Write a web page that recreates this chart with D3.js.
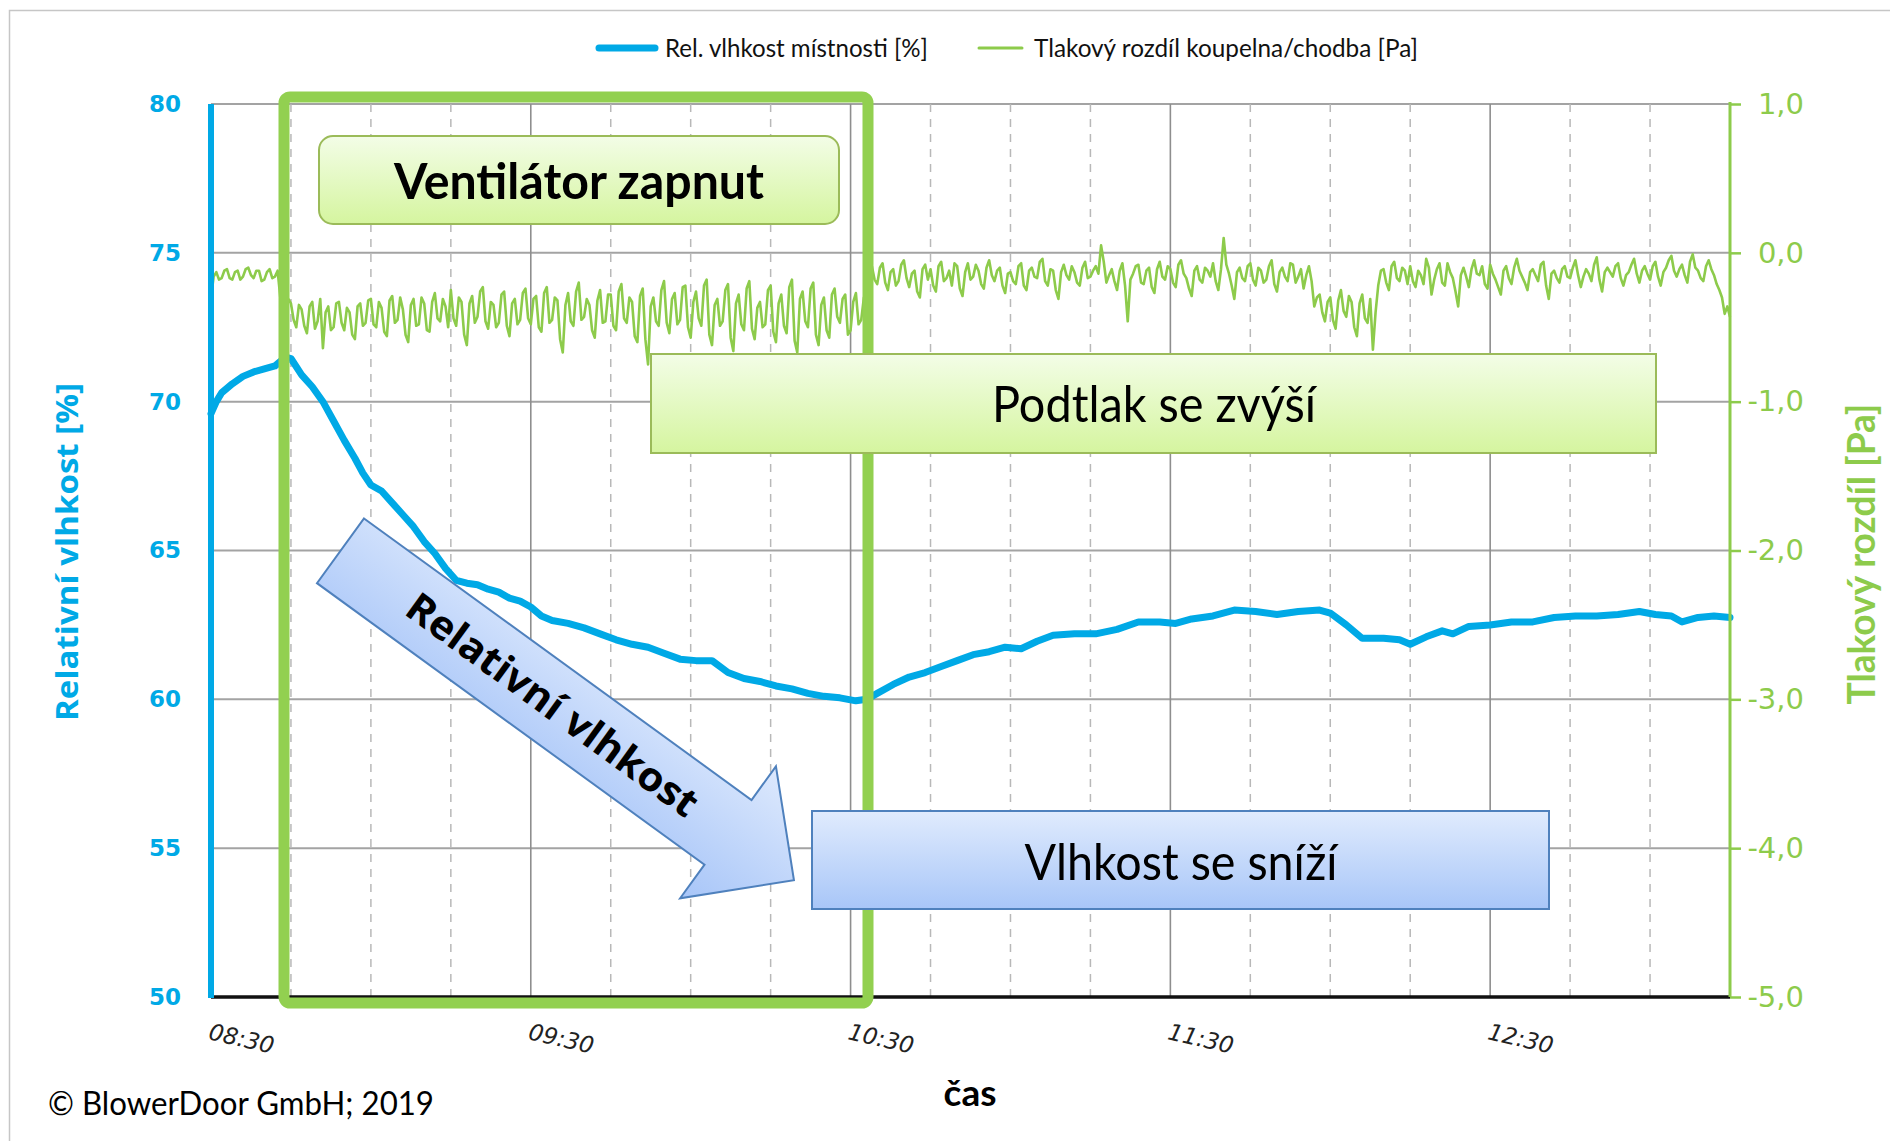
<!DOCTYPE html>
<html>
<head>
<meta charset="utf-8">
<script src="https://cdn.jsdelivr.net/npm/d3@7"></script>
<style>
  html, body { margin: 0; padding: 0; background: #fff; }
  svg { display: block; }
</style>
</head>
<body>
<svg id="chart" width="1890" height="1141"></svg>
<script>
// relative humidity of the room, sample time in minutes after 08:30
const humMinutes = [
  0, 1, 2, 4, 6, 8, 10, 12, 14, 15,
  17, 19, 21, 23, 25, 27, 28.5, 30, 32, 34,
  36, 38, 40, 42, 44, 46, 48, 50, 52, 54,
  56, 58, 60, 62, 64, 67, 70, 73, 76, 79,
  82, 85, 88, 91, 94, 97, 100, 103, 106, 109,
  112, 115, 118, 121, 123, 125, 128, 131, 134, 137,
  140, 143, 146, 149, 152, 155, 158, 162, 166, 170,
  174, 178, 181, 184, 188, 192, 196, 200, 204, 208,
  210, 213, 216, 220, 223, 225, 228, 231, 233, 236,
  240, 244, 248, 252, 256, 260, 264, 268, 271, 274,
  276, 279, 282, 285
];
const humValues = [
  69.6, 70.0, 70.3, 70.6, 70.85, 71.0, 71.1, 71.2, 71.5, 71.45,
  70.9, 70.5, 70.0, 69.35, 68.7, 68.1, 67.6, 67.2, 67.0, 66.6,
  66.2, 65.8, 65.3, 64.9, 64.4, 64.0, 63.9, 63.85, 63.7, 63.6,
  63.4, 63.3, 63.1, 62.8, 62.65, 62.55, 62.4, 62.2, 62.0, 61.85,
  61.75, 61.55, 61.35, 61.3, 61.3, 60.9, 60.7, 60.6, 60.45, 60.35,
  60.2, 60.1, 60.05, 59.95, 60.0, 60.2, 60.5, 60.75, 60.9, 61.1,
  61.3, 61.5, 61.6, 61.75, 61.7, 61.95, 62.15, 62.2, 62.2, 62.35,
  62.6, 62.6, 62.55, 62.7, 62.8, 63.0, 62.95, 62.85, 62.95, 63.0,
  62.9, 62.5, 62.05, 62.05, 62.0, 61.85, 62.1, 62.3, 62.2, 62.45,
  62.5, 62.6, 62.6, 62.75, 62.8, 62.8, 62.85, 62.95, 62.85, 62.8,
  62.6, 62.75, 62.8, 62.75
];

// pressure difference bathroom/corridor [Pa], one reading every 30 s from 08:30
// (one row = 15 minutes)
const pressureValues = [
  -0.30, -0.16, -0.13, -0.18, -0.17, -0.12, -0.11, -0.17, -0.18, -0.13, -0.12, -0.18, -0.16, -0.11, -0.10, -0.15, -0.17, -0.12, -0.12, -0.19, -0.18, -0.13, -0.11, -0.17, -0.16, -0.12, -0.30, -0.36, -0.42, -0.31,
  -0.34, -0.45, -0.50, -0.35, -0.38, -0.49, -0.54, -0.36, -0.33, -0.51, -0.46, -0.31, -0.64, -0.40, -0.36, -0.52, -0.50, -0.34, -0.33, -0.47, -0.52, -0.37, -0.40, -0.55, -0.58, -0.36, -0.34, -0.49, -0.47, -0.32,
  -0.31, -0.48, -0.50, -0.33, -0.37, -0.53, -0.56, -0.32, -0.29, -0.47, -0.45, -0.30, -0.38, -0.55, -0.60, -0.35, -0.31, -0.49, -0.48, -0.30, -0.34, -0.52, -0.53, -0.33, -0.27, -0.44, -0.46, -0.31, -0.36, -0.50,
  -0.25, -0.44, -0.49, -0.30, -0.33, -0.55, -0.62, -0.34, -0.29, -0.47, -0.43, -0.26, -0.23, -0.46, -0.51, -0.33, -0.35, -0.50, -0.47, -0.28, -0.26, -0.49, -0.56, -0.34, -0.31, -0.48, -0.45, -0.27, -0.24, -0.44,
  -0.48, -0.31, -0.29, -0.50, -0.53, -0.27, -0.23, -0.47, -0.45, -0.30, -0.32, -0.58, -0.67, -0.35, -0.27, -0.46, -0.49, -0.26, -0.20, -0.45, -0.43, -0.31, -0.35, -0.52, -0.57, -0.32, -0.25, -0.47, -0.46, -0.28,
  -0.28, -0.49, -0.52, -0.26, -0.21, -0.44, -0.47, -0.30, -0.33, -0.56, -0.60, -0.29, -0.24, -0.58, -0.75, -0.36, -0.30, -0.46, -0.49, -0.25, -0.19, -0.47, -0.54, -0.31, -0.27, -0.48, -0.45, -0.23, -0.22, -0.50,
  -0.57, -0.33, -0.26, -0.44, -0.49, -0.22, -0.18, -0.55, -0.62, -0.35, -0.31, -0.49, -0.46, -0.25, -0.21, -0.57, -0.66, -0.34, -0.28, -0.48, -0.52, -0.24, -0.19, -0.51, -0.58, -0.37, -0.33, -0.50, -0.48, -0.25,
  -0.22, -0.53, -0.60, -0.34, -0.28, -0.49, -0.54, -0.23, -0.18, -0.59, -0.67, -0.31, -0.26, -0.46, -0.50, -0.24, -0.20, -0.55, -0.62, -0.35, -0.30, -0.52, -0.57, -0.28, -0.24, -0.43, -0.47, -0.31, -0.28, -0.55,
  -0.52, -0.33, -0.27, -0.48, -0.45, -0.30, -0.50, -0.22, -0.09, -0.18, -0.21, -0.10, -0.07, -0.20, -0.25, -0.13, -0.11, -0.22, -0.19, -0.08, -0.05, -0.17, -0.23, -0.14, -0.12, -0.26, -0.30, -0.11, -0.08, -0.18,
  -0.11, -0.22, -0.26, -0.09, -0.06, -0.19, -0.17, -0.12, -0.22, -0.07, -0.09, -0.24, -0.29, -0.13, -0.07, -0.18, -0.16, -0.08, -0.12, -0.21, -0.24, -0.10, -0.05, -0.15, -0.19, -0.12, -0.10, -0.22, -0.27, -0.14,
  -0.13, -0.19, -0.21, -0.09, -0.07, -0.22, -0.25, -0.12, -0.10, -0.16, -0.17, -0.06, -0.04, -0.19, -0.22, -0.11, -0.12, -0.25, -0.31, -0.13, -0.08, -0.15, -0.18, -0.09, -0.13, -0.20, -0.22, -0.10, -0.06, -0.17,
  -0.16, -0.12, -0.09, -0.14, 0.05, -0.06, -0.20, -0.15, -0.11, -0.19, -0.25, -0.12, -0.07, -0.22, -0.46, -0.18, -0.14, -0.09, -0.08, -0.20, -0.21, -0.12, -0.10, -0.23, -0.27, -0.11, -0.06, -0.16, -0.18, -0.09,
  -0.11, -0.20, -0.23, -0.08, -0.05, -0.14, -0.17, -0.24, -0.29, -0.12, -0.09, -0.18, -0.20, -0.10, -0.12, -0.16, -0.07, -0.19, -0.25, -0.11, 0.10, -0.08, -0.14, -0.22, -0.31, -0.13, -0.10, -0.17, -0.19, -0.09,
  -0.07, -0.18, -0.22, -0.10, -0.12, -0.20, -0.18, -0.09, -0.05, -0.21, -0.26, -0.13, -0.10, -0.16, -0.19, -0.07, -0.08, -0.20, -0.16, -0.11, -0.24, -0.15, -0.09, -0.19, -0.36, -0.30, -0.28, -0.40, -0.46, -0.33,
  -0.30, -0.45, -0.51, -0.32, -0.25, -0.39, -0.43, -0.29, -0.33, -0.50, -0.56, -0.34, -0.28, -0.44, -0.47, -0.31, -0.65, -0.40, -0.22, -0.12, -0.11, -0.20, -0.25, -0.09, -0.06, -0.17, -0.19, -0.10, -0.12, -0.21,
  -0.09, -0.19, -0.23, -0.12, -0.15, -0.21, -0.04, -0.10, -0.28, -0.18, -0.11, -0.07, -0.20, -0.22, -0.07, -0.13, -0.17, -0.26, -0.36, -0.15, -0.10, -0.16, -0.23, -0.11, -0.05, -0.14, -0.15, -0.09, -0.21, -0.24,
  -0.08, -0.14, -0.18, -0.23, -0.28, -0.12, -0.09, -0.17, -0.21, -0.10, -0.04, -0.12, -0.16, -0.20, -0.25, -0.13, -0.11, -0.15, -0.19, -0.08, -0.06, -0.22, -0.31, -0.14, -0.12, -0.17, -0.20, -0.11, -0.09, -0.16,
  -0.17, -0.10, -0.05, -0.15, -0.23, -0.16, -0.11, -0.14, -0.19, -0.08, -0.03, -0.18, -0.26, -0.13, -0.10, -0.13, -0.16, -0.09, -0.07, -0.17, -0.22, -0.15, -0.13, -0.08, -0.04, -0.14, -0.20, -0.12, -0.09, -0.14,
  -0.18, -0.09, -0.06, -0.16, -0.22, -0.13, -0.10, -0.05, -0.02, -0.12, -0.16, -0.11, -0.08, -0.15, -0.20, -0.06, -0.01, -0.10, -0.12, -0.17, -0.19, -0.09, -0.05, -0.11, -0.15, -0.21, -0.25, -0.30, -0.41, -0.36,
  -0.43
];

const humTicks = [50, 55, 60, 65, 70, 75, 80];
const paTicks = [-5, -4, -3, -2, -1, 0, 1];
const timeLabels = ["08:30", "09:30", "10:30", "11:30", "12:30"];
const legendLabels = ["Rel. vlhkost místnosti [%]", "Tlakový rozdíl koupelna/chodba [Pa]"];

const blue = "#00a9e6";
const green = "#8dcb4b";
const calibri = "Lato, 'Open Sans', sans-serif";
const verdana = "'DejaVu Sans', Verdana, sans-serif";

const L = 211, R = 1730, T = 104, B = 997;

const parseTime = d3.timeParse("%H:%M");
const t0 = parseTime("08:30"), t1 = parseTime("13:15");
const atMinute = m => d3.timeSecond.offset(t0, Math.round(m * 60));

const x = d3.scaleTime().domain([t0, t1]).range([L, R]);
const yHum = d3.scaleLinear().domain([50, 80]).range([B, T]);
const yPa = d3.scaleLinear().domain([-5, 1]).range([B, T]);

const svg = d3.select("#chart");
const defs = svg.append("defs");

function vGrad(id, top, bottom) {
  const g = defs.append("linearGradient").attr("id", id)
    .attr("x1", 0).attr("y1", 0).attr("x2", 0).attr("y2", 1);
  g.append("stop").attr("offset", "0%").attr("stop-color", top);
  g.append("stop").attr("offset", "100%").attr("stop-color", bottom);
}
vGrad("greenFill", "#f3fde7", "#d5f59f");
vGrad("blueFill", "#e0ebfd", "#a8c6f8");
vGrad("arrowFill", "#dde9fd", "#a7c5f8");

// outer frame of the picture
svg.append("rect")
  .attr("x", 9.5).attr("y", 10.5).attr("width", 1900).attr("height", 1200)
  .attr("fill", "none").attr("stroke", "#c6c6c6").attr("stroke-width", 1.5);

// grid
const grid = svg.append("g");
grid.selectAll("line.h")
  .data(humTicks.filter(d => d > 50))
  .join("line").attr("class", "h")
  .attr("x1", L).attr("x2", R)
  .attr("y1", d => yHum(d)).attr("y2", d => yHum(d))
  .attr("stroke", "#a3a3a3").attr("stroke-width", 2);

const quarters = x.ticks(d3.timeMinute.every(15)).filter(d => d > t0 && d < t1);
grid.selectAll("line.v")
  .data(quarters)
  .join("line").attr("class", "v")
  .attr("x1", d => x(d)).attr("x2", d => x(d))
  .attr("y1", T).attr("y2", B)
  .attr("stroke", d => d.getMinutes() === 30 ? "#8e8e8e" : "#b8b8b8")
  .attr("stroke-width", d => d.getMinutes() === 30 ? 1.6 : 1.5)
  .attr("stroke-dasharray", d => d.getMinutes() === 30 ? null : "8,7");

// series
const paLine = d3.line()
  .x((d, i) => x(atMinute(i / 2)))
  .y(d => yPa(d));
svg.append("path")
  .datum(pressureValues)
  .attr("d", paLine)
  .attr("fill", "none")
  .attr("stroke", green)
  .attr("stroke-width", 2.6)
  .attr("stroke-linejoin", "round");

const humLine = d3.line()
  .x((d, i) => x(atMinute(humMinutes[i])))
  .y(d => yHum(d));
svg.append("path")
  .datum(humValues)
  .attr("d", humLine)
  .attr("fill", "none")
  .attr("stroke", blue)
  .attr("stroke-width", 7)
  .attr("stroke-linejoin", "round")
  .attr("stroke-linecap", "round");

// axes
const leftAxis = svg.append("g")
  .attr("transform", `translate(${L},0)`)
  .call(d3.axisLeft(yHum).tickValues(humTicks).tickSize(0).tickPadding(30));
leftAxis.select(".domain").remove();
leftAxis.selectAll("text")
  .attr("fill", blue)
  .style("font-family", verdana)
  .style("font-weight", "bold")
  .style("font-size", "23px");

const rightAxis = svg.append("g")
  .attr("transform", `translate(${R},0)`)
  .call(d3.axisRight(yPa).tickValues(paTicks).tickSize(11)
    .tickFormat(d => d.toFixed(1).replace(".", ",")));
rightAxis.select(".domain").remove();
rightAxis.selectAll(".tick line").attr("stroke", green).attr("stroke-width", 2.5);
rightAxis.selectAll("text")
  .attr("x", 74)
  .attr("text-anchor", "end")
  .attr("fill", green)
  .style("font-family", verdana)
  .style("font-size", "29px");

const bottomAxis = svg.append("g")
  .attr("transform", `translate(0,${B})`)
  .call(d3.axisBottom(x).tickValues(timeLabels.map(parseTime))
    .tickFormat(d3.timeFormat("%H:%M")).tickSize(0));
bottomAxis.select(".domain").remove();
bottomAxis.selectAll("text")
  .attr("x", 0).attr("y", 0).attr("dy", 0)
  .attr("text-anchor", "start")
  .attr("transform", "translate(-4,42) rotate(13)")
  .attr("fill", "#222")
  .style("font-family", verdana)
  .style("font-style", "italic")
  .style("font-size", "23px");

svg.append("line")
  .attr("x1", L).attr("x2", R).attr("y1", B).attr("y2", B)
  .attr("stroke", "#111").attr("stroke-width", 3.5);
svg.append("line")
  .attr("x1", L).attr("x2", L).attr("y1", T).attr("y2", B + 1)
  .attr("stroke", blue).attr("stroke-width", 6);
svg.append("line")
  .attr("x1", R).attr("x2", R).attr("y1", T - 2).attr("y2", B)
  .attr("stroke", green).attr("stroke-width", 3);

// axis titles
svg.append("text")
  .attr("transform", "translate(78,552) rotate(-90)")
  .attr("text-anchor", "middle")
  .attr("fill", blue)
  .attr("textLength", 338).attr("lengthAdjust", "spacingAndGlyphs")
  .style("font-family", "'Open Sans', sans-serif")
  .style("font-weight", "bold")
  .style("font-size", "30px")
  .text("Relativní vlhkost [%]");

svg.append("text")
  .attr("transform", "translate(1875,554) rotate(-90)")
  .attr("text-anchor", "middle")
  .attr("fill", green)
  .attr("textLength", 301).attr("lengthAdjust", "spacingAndGlyphs")
  .style("font-family", calibri)
  .style("font-weight", "bold")
  .style("font-size", "38px")
  .text("Tlakový rozdíl [Pa]");

svg.append("text")
  .attr("x", 970).attr("y", 1106)
  .attr("text-anchor", "middle")
  .attr("fill", "#000")
  .style("font-family", calibri)
  .style("font-weight", "bold")
  .style("font-size", "37px")
  .text("čas");

svg.append("text")
  .attr("x", 48).attr("y", 1115)
  .attr("fill", "#000")
  .attr("textLength", 386).attr("lengthAdjust", "spacingAndGlyphs")
  .style("font-family", calibri)
  .style("font-size", "33px")
  .text("© BlowerDoor GmbH; 2019");

// legend
const legendLayout = [
  { x: 599, w: 56, sw: 7, color: blue, tx: 665, len: 263 },
  { x: 979, w: 43, sw: 3, color: green, tx: 1034, len: 384 }
];
const legend = svg.append("g").selectAll("g")
  .data(legendLabels)
  .join("g");
legend.append("line")
  .attr("x1", (d, i) => legendLayout[i].x)
  .attr("x2", (d, i) => legendLayout[i].x + legendLayout[i].w)
  .attr("y1", 48).attr("y2", 48)
  .attr("stroke", (d, i) => legendLayout[i].color)
  .attr("stroke-width", (d, i) => legendLayout[i].sw)
  .attr("stroke-linecap", "round");
legend.append("text")
  .attr("x", (d, i) => legendLayout[i].tx)
  .attr("y", 57)
  .attr("textLength", (d, i) => legendLayout[i].len)
  .attr("lengthAdjust", "spacingAndGlyphs")
  .attr("fill", "#111")
  .style("font-family", calibri)
  .style("font-size", "25px")
  .text(d => d);

// "fan on" frame
svg.append("rect")
  .attr("x", 284).attr("y", 97).attr("width", 584).attr("height", 906)
  .attr("rx", 6)
  .attr("fill", "none").attr("stroke", "#92d050").attr("stroke-width", 11);

// callout boxes
svg.append("rect")
  .attr("x", 319).attr("y", 136).attr("width", 520).attr("height", 88).attr("rx", 14)
  .attr("fill", "url(#greenFill)").attr("stroke", "#9bbb59").attr("stroke-width", 2);
svg.append("text")
  .attr("x", 579).attr("y", 199).attr("text-anchor", "middle")
  .attr("textLength", 370).attr("lengthAdjust", "spacingAndGlyphs")
  .style("font-family", calibri).style("font-weight", "bold").style("font-size", "50px")
  .text("Ventilátor zapnut");

svg.append("rect")
  .attr("x", 651).attr("y", 354).attr("width", 1005).attr("height", 99)
  .attr("fill", "url(#greenFill)").attr("stroke", "#9bbb59").attr("stroke-width", 2);
svg.append("text")
  .attr("x", 1154).attr("y", 422).attr("text-anchor", "middle")
  .attr("textLength", 324).attr("lengthAdjust", "spacingAndGlyphs")
  .style("font-family", calibri).style("font-size", "50px")
  .text("Podtlak se zvýší");

svg.append("rect")
  .attr("x", 812).attr("y", 811).attr("width", 737).attr("height", 98)
  .attr("fill", "url(#blueFill)").attr("stroke", "#4f81bd").attr("stroke-width", 2);
svg.append("text")
  .attr("x", 1181).attr("y", 880).attr("text-anchor", "middle")
  .attr("textLength", 313).attr("lengthAdjust", "spacingAndGlyphs")
  .style("font-family", calibri).style("font-size", "50px")
  .text("Vlhkost se sníží");

// block arrow
const arrow = svg.append("g").attr("transform", "translate(340.5,550.8) rotate(36)");
arrow.append("polygon")
  .attr("points", "0,-40 479,-40 479,-81.5 560.5,0 479,81.5 479,40 0,40")
  .attr("fill", "url(#arrowFill)").attr("stroke", "#4f81bd").attr("stroke-width", 2);
arrow.append("text")
  .attr("x", 262).attr("y", 14).attr("text-anchor", "middle")
  .attr("textLength", 350).attr("lengthAdjust", "spacingAndGlyphs")
  .style("font-family", "'Open Sans', sans-serif").style("font-weight", "bold").style("font-size", "40px")
  .text("Relativní vlhkost");
</script>
</body>
</html>
